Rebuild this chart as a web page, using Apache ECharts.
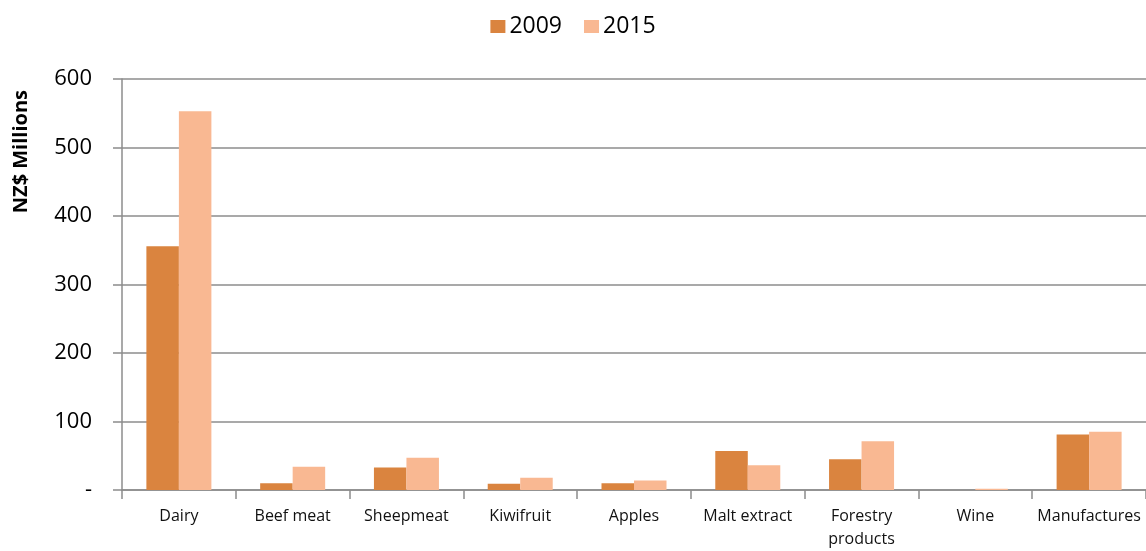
<!DOCTYPE html>
<html>
<head>
<meta charset="utf-8">
<script src="https://cdn.jsdelivr.net/npm/echarts@6/dist/echarts.min.js"></script>
<style>
html,body{margin:0;padding:0;background:#fff;overflow:hidden;}
#chart{width:1146px;height:551px;}
</style>
</head>
<body>
<div id="chart"></div>
<script>
const categories = ['Dairy','Beef meat','Sheepmeat','Kiwifruit','Apples','Malt extract','Forestry\nproducts','Wine','Manufactures'];
const values2009 = [356, 10, 33, 9, 10, 57, 45, 0, 81];
const values2015 = [553, 34, 47, 18, 14, 36, 71, 2, 85];
const seriesNames = ['2009','2015'];
const yTicks = [0,100,200,300,400,500,600];

const FONT = '"Open Sans", "Liberation Sans", sans-serif';
const chart = echarts.init(document.getElementById('chart'), null, {renderer:'canvas', width:1146, height:551});
chart.setOption({
  animation:false,
  backgroundColor:'#fff',
  legend:{
    top:10, left:'center',
    itemWidth:15, itemHeight:13, itemGap:22,
    icon:'rect',
    textStyle:{fontFamily:FONT, fontSize:23, color:'#000', padding:[0,0,0,-1]},
    data:seriesNames
  },
  graphic:[{
    type:'text', left:11, top:90, rotation:Math.PI/2,
    style:{text:'NZ$ Millions', font:'bold 20px ' + FONT, fill:'#000'}
  }],
  grid:{left:122, top:79, width:1029, height:418, containLabel:false},
  xAxis:{
    type:'category', data:categories,
    axisLine:{lineStyle:{color:'#8c8c8c', width:1.5}},
    axisTick:{show:true, length:9, lineStyle:{color:'#8c8c8c', width:1.5}},
    axisLabel:{fontFamily:FONT, fontSize:16, color:'#111', margin:15, lineHeight:23, interval:0}
  },
  yAxis:{
    type:'value', min:yTicks[0], max:yTicks[yTicks.length-1], interval:100,
    axisLine:{show:true, lineStyle:{color:'#8c8c8c', width:1.5}},
    axisTick:{show:true, length:9, lineStyle:{color:'#8c8c8c', width:1.5}},
    splitLine:{lineStyle:{color:'#8c8c8c', width:1.5}},
    axisLabel:{fontFamily:FONT, fontSize:22, color:'#000', margin:30,
      formatter:function(v){ return v===0 ? '-' : String(v); }}
  },
  series:[
    {name:seriesNames[0], type:'bar', data:values2009, barWidth:32.5, barGap:'0%',
     itemStyle:{color:'#DA843F'}},
    {name:seriesNames[1], type:'bar', data:values2015, barWidth:32.5, barGap:'0%',
     itemStyle:{color:'#F9B892'}}
  ]
});
</script>
</body>
</html>
